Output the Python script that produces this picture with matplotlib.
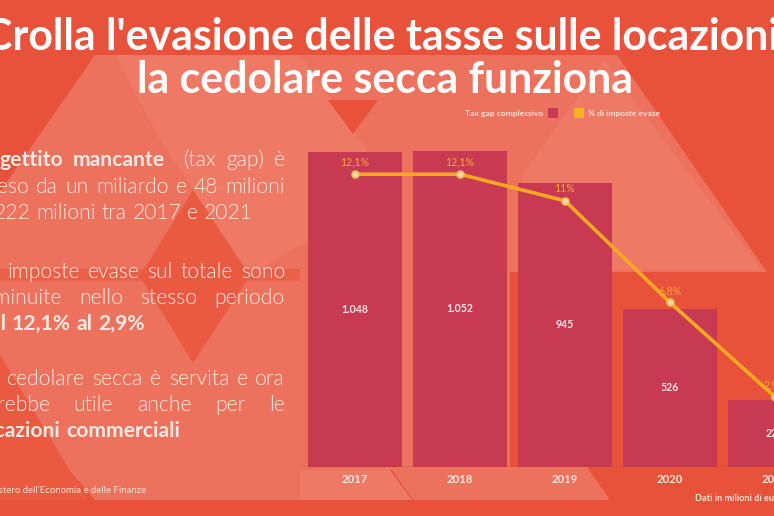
import matplotlib
matplotlib.use('Agg')
import matplotlib.pyplot as plt
from matplotlib.patches import Polygon, Rectangle
from matplotlib import font_manager as fm

# ---------------- data ----------------
years = ['2017', '2018', '2019', '2020', '2021']
tax_gap = [1048, 1052, 945, 526, 222]          # milioni di euro
pct_evase = [12.1, 12.1, 11.0, 6.8, 2.9]       # % di imposte evase

title_lines = ["Crolla l'evasione delle tasse sulle locazioni,",
               "la cedolare secca funziona"]
legend_labels = ["Tax gap complessivo", "% di imposte evase"]
source_text = "Fonte: Ministero dell'Economia e delle Finanze"
unit_text = "Dati in milioni di euro"

# paragraph lines: (word, bold, gap weight after), justified?
text_lines = [
    ([("Il", 1, 1), ("gettito", 1, 1), ("mancante", 1, 2), ("(tax", 0, 1), ("gap)", 0, 1), ("è", 0, 0)], True),
    ([(w, 0, 1) for w in "sceso da un miliardo e 48 milioni".split()], True),
    ([(w, 0, 1) for w in "a 222 milioni tra 2017 e 2021".split()], False),
    ([(w, 0, 1) for w in "Le imposte evase sul totale sono".split()], True),
    ([(w, 0, 1) for w in "diminuite nello stesso periodo".split()], True),
    ([(w, 1, 1) for w in "dal 12,1% al 2,9%".split()], False),
    ([(w, 0, 1) for w in "La cedolare secca è servita e ora".split()], True),
    ([(w, 0, 1) for w in "sarebbe utile anche per le".split()], True),
    ([(w, 1, 1) for w in "locazioni commerciali".split()], False),
]
line_baselines = [166, 193, 219, 278, 304, 330, 385, 411, 437]

# ---------------- figure ----------------
W, H = 774, 516
fig = plt.figure(figsize=(W / 100, H / 100), dpi=100)
BASE = '#E8523A'
LIGHT = '#EC725D'
LIGHTER = '#EE7965'
fig.patch.set_facecolor(BASE)

bg = fig.add_axes([0, 0, 1, 1], zorder=0)
bg.set_xlim(0, W)
bg.set_ylim(H, 0)
bg.axis('off')

def poly(pts, color, z=0):
    bg.add_patch(Polygon(pts, closed=True, facecolor=color, edgecolor='none', zorder=z))

# decorative background shapes
poly([(95, 55), (617, 55), (767, 272), (510, 272), (510, 470), (300, 470),
      (300, 500), (95, 500), (0, 390), (0, 192)], LIGHT, 0)
poly([(604, 60), (762, 270), (522, 270), (522, 175)], LIGHTER, 0.1)
poly([(115, 55), (300, 55), (395, 190), (250, 275), (160, 140)], LIGHTER, 0.1)
poly([(300, 330), (300, 470), (390, 470), (412, 500), (300, 500)], LIGHTER, 0.1)
poly([(390, 467), (587, 467), (610, 500), (413, 500)], LIGHT, 0.1)
poly([(328, 100), (378, 100), (353, 134)], BASE, 0.2)
poly([(193, 190), (250, 276), (193, 363), (140, 276)], '#E95A41', 0.2)
bg.add_patch(Rectangle((0, 269), 300, 12, facecolor='#EA6048', edgecolor='none', zorder=0.15))
poly([(0, 355), (88, 500), (0, 500)], '#E95A41', 0.2)

# ---------------- fonts ----------------
PFAM = ['Lato', 'DejaVu Sans']
lato_weights = sorted({f.weight for f in fm.fontManager.ttflist if f.name == 'Lato'
                       and isinstance(f.weight, int)})
LIGHT_W = 300 if 300 in lato_weights else 400

# ---------------- title ----------------
renderer = fig.canvas.get_renderer()
probe = bg.text(0, 0, title_lines[1], fontsize=30, weight='bold', family=PFAM)
w30 = probe.get_window_extent(renderer).width
probe.remove()
title_fs = 30 * 496 / w30
bg.text(387, 50, title_lines[0], ha='center', va='baseline', fontsize=title_fs,
        weight='bold', color='white', family=PFAM, zorder=5)
bg.text(385, 93, title_lines[1], ha='center', va='baseline', fontsize=title_fs,
        weight='bold', color='white', family=PFAM, zorder=5)

# ---------------- justified paragraphs ----------------
PFS = 15.2
PCOL = '#FCE9E3'
LEFT, RIGHT = -22, 285

def measure(word, bold):
    t = bg.text(0, 0, word, fontsize=PFS, family=PFAM, weight='bold' if bold else LIGHT_W)
    w = t.get_window_extent(renderer).width
    t.remove()
    return w

space_w = measure('a a', 0) - 2 * measure('a', 0)
for (words, justified), yb in zip(text_lines, line_baselines):
    widths = [measure(w, b) for w, b, _ in words]
    weights = [g for _, _, g in words[:-1]]
    if justified:
        gap = (RIGHT - LEFT - sum(widths)) / sum(weights)
    else:
        gap = space_w
    x = LEFT
    for (w, b, g), wd in zip(words, widths):
        bg.text(x, yb, w, ha='left', va='baseline', fontsize=PFS, family=PFAM,
                weight='bold' if b else LIGHT_W, color=PCOL, zorder=5)
        x += wd + gap * g

bg.text(146, 493, source_text, ha='right', va='baseline', fontsize=6.9,
        family=PFAM, color='#F9DDD5', zorder=5)
bg.text(695, 501, unit_text, ha='left', va='baseline', fontsize=6.6,
        family=PFAM, weight='bold', color='#F9DDD5', zorder=5)

# ---------------- legend ----------------
BAR_C = '#C73A52'
LINE_C = '#F7A823'
bg.text(543, 116, legend_labels[0], ha='right', va='baseline', fontsize=6.1,
        family=PFAM, weight='bold', color='#F8E0D8', zorder=5)
bg.add_patch(Rectangle((548, 108), 10, 10, facecolor=BAR_C, edgecolor='none', zorder=5))
bg.add_patch(Rectangle((574, 108), 10, 10, facecolor='#F9B21F', edgecolor='none', zorder=5))
bg.text(588, 116, legend_labels[1], ha='left', va='baseline', fontsize=6.1,
        family=PFAM, weight='bold', color='#F8E0D8', zorder=5)

# ---------------- chart ----------------
x0_px, step_px, bar_px = 355, 105, 94
base_px, top_px = 467, 100
ax = fig.add_axes([300 / W, (H - base_px) / H, (W - 300) / W, (base_px - top_px) / H], zorder=2)
ax.patch.set_alpha(0)
xs = list(range(len(years)))
ax.bar(xs, tax_gap, width=bar_px / step_px, color=BAR_C, zorder=2)
ax.set_xlim((300 - x0_px) / step_px, (W - x0_px) / step_px)
ax.set_ylim(0, (base_px - top_px) / 0.3006)
ax.axis('off')
ax.axhline(0, color='#A9423A', lw=1.0, zorder=3)

for i, v in enumerate(tax_gap):
    ax.text(i, v / 2, f"{v:,}".replace(',', '.'), ha='center', va='center',
            fontsize=7.6, weight='bold', family=PFAM, color='#F7E4E6', zorder=5)
for i, y in enumerate(years):
    ax.annotate(y, (i, 0), xytext=(0, -8.8), textcoords='offset points',
                ha='center', va='center', fontsize=8.2, weight='bold',
                family=PFAM, color='#FBE6E0', annotation_clip=False)

ax2 = ax.twinx()
ax2.set_ylim(0, (base_px - top_px) / 24.2)
ax2.axis('off')
ax2.plot(xs, pct_evase, color=LINE_C, lw=2.6, marker='o', ms=5.2,
         mfc='#EBD8AE', mec='#F2B84A', mew=1.0, clip_on=False, zorder=4)
for i, p in enumerate(pct_evase):
    ax2.annotate(f"{p:g}".replace('.', ',') + '%', (i, p), xytext=(0, 8.6),
                 textcoords='offset points', ha='center', va='center',
                 fontsize=7.6, family=PFAM, color='#F8A733', annotation_clip=False)

fig.savefig('out.png', dpi=100, facecolor=BASE)
